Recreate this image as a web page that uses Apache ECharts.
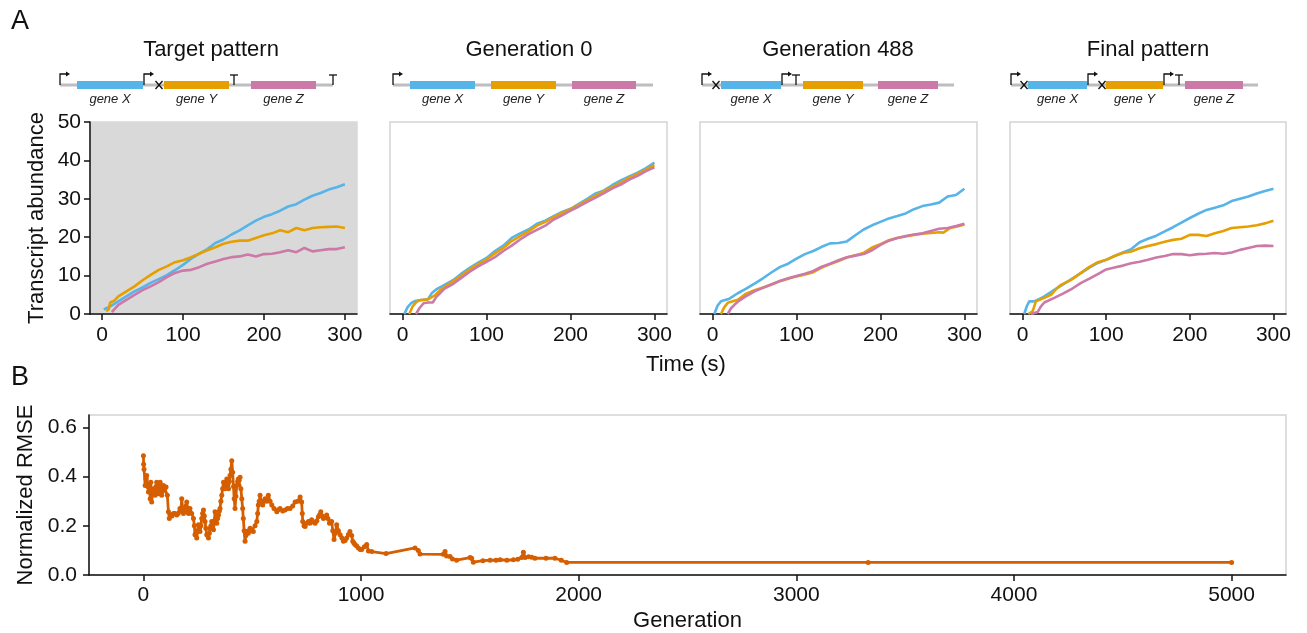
<!DOCTYPE html>
<html>
<head>
<meta charset="utf-8">
<title>Gene circuit evolution</title>
<script src="https://cdn.jsdelivr.net/npm/echarts@6/dist/echarts.min.js"></script>
<style>
  html, body { margin: 0; padding: 0; background: #fff; }
  #chart { width: 1307px; height: 633px; }
</style>
</head>
<body>
<div id="chart"></div>
<script>
// tick labels
var timeTicks = [0, 100, 200, 300];
var abundanceTicks = [0, 10, 20, 30, 40, 50];
var genTicks = [0, 1000, 2000, 3000, 4000, 5000];
var rmseTicks = [0, 0.2, 0.4, 0.6];

var panelTitles = ['Target pattern', 'Generation 0', 'Generation 488', 'Final pattern'];
var geneNames = ['gene X', 'gene Y', 'gene Z'];

// transcript abundance, [time (s), value]
var targetX = [[2,1.2],[10,2],[20,3.3],[30,4.6],[40,5.9],[50,6.9],[60,8.1],[70,9.1],[80,10.1],[90,11.4],[100,12.8],[110,14.4],[120,15.7],[130,16.9],[140,18.5],[150,19.4],[160,20.7],[170,21.8],[180,23.1],[190,24.3],[200,25.3],[210,26],[220,26.9],[230,28],[240,28.6],[250,29.8],[260,30.8],[270,31.5],[280,32.4],[290,33],[300,33.8]];
var targetY = [[5,0.7],[8,1.2],[10,3.0],[15,3.5],[20,4.6],[30,5.9],[40,7.2],[50,8.8],[60,10.2],[70,11.5],[80,12.4],[90,13.5],[100,14],[110,14.8],[120,15.7],[130,16.6],[140,17.4],[150,18.3],[160,18.8],[170,19.1],[180,19.1],[190,19.8],[200,20.5],[210,21],[220,21.8],[230,21.3],[240,22.4],[250,21.8],[260,22.4],[270,22.6],[280,22.7],[290,22.8],[300,22.4]];
var targetZ = [[12,0.5],[15,1.2],[20,2.4],[30,3.7],[40,5],[50,6.2],[60,7.2],[70,8.3],[80,9.6],[90,10.7],[100,11.3],[110,11.5],[120,12.2],[130,13.1],[140,13.7],[150,14.3],[160,14.8],[170,15],[180,15.5],[190,15],[200,15.6],[210,15.7],[220,16.1],[230,16.6],[240,16.1],[250,17.2],[260,16.3],[270,16.6],[280,16.9],[290,16.9],[300,17.4]];

var gen0X = [[2,0],[6,1.8],[10,2.8],[15,3.4],[20,3.6],[30,3.8],[35,5.5],[40,6.4],[50,7.6],[60,8.8],[70,10.5],[80,12.0],[90,13.4],[100,14.6],[110,16.4],[120,17.8],[130,19.8],[140,21.0],[150,22.0],[160,23.5],[170,24.3],[180,25.5],[190,26.6],[200,27.4],[210,28.7],[220,30.0],[230,31.4],[240,32.2],[250,33.6],[260,34.8],[270,35.8],[280,36.8],[290,38.0],[300,39.4]];
var gen0Y = [[8,0],[12,2.0],[16,3.0],[20,3.6],[30,3.8],[38,4.8],[45,6.3],[50,7.0],[60,8.5],[70,10.0],[80,11.6],[90,13.0],[100,14.2],[110,15.8],[120,17.2],[130,19.0],[140,20.3],[150,21.5],[160,23.0],[170,24.0],[180,25.2],[190,26.3],[200,27.3],[210,28.4],[220,29.6],[230,30.8],[240,32.0],[250,33.1],[260,34.2],[270,35.5],[280,36.5],[290,37.6],[300,38.8]];
var gen0Z = [[16,0],[20,1.5],[25,2.8],[30,3.0],[36,3.0],[40,4.4],[50,6.6],[60,7.8],[70,9.4],[80,11.0],[90,12.4],[100,13.6],[110,14.8],[120,16.4],[130,17.8],[140,19.4],[150,20.8],[160,21.9],[170,23.0],[180,24.6],[190,25.7],[200,26.9],[210,28.0],[220,29.2],[230,30.3],[240,31.5],[250,32.7],[260,33.7],[270,35.0],[280,36.0],[290,37.2],[300,38.2]];

var gen488X = [[2,0],[6,2.2],[10,3.3],[20,4.0],[30,5.4],[40,6.6],[50,7.9],[60,9.3],[70,10.8],[80,12.2],[90,13.1],[100,14.4],[110,15.6],[120,16.4],[130,17.5],[140,18.4],[150,18.5],[160,18.9],[170,20.5],[180,22.0],[190,23.1],[200,24.0],[210,24.9],[220,25.5],[230,26.2],[240,27.3],[250,28.1],[260,28.5],[270,29.0],[280,30.6],[290,31.0],[300,32.6]];
var gen488Y = [[10,0],[14,1.8],[18,2.9],[30,3.7],[40,5.3],[50,6.2],[60,6.9],[70,7.7],[80,8.5],[90,9.2],[100,9.8],[110,10.3],[120,10.9],[130,12.1],[140,13.0],[150,13.8],[160,14.7],[170,15.3],[180,15.9],[190,17.3],[200,18.2],[210,19.2],[220,19.8],[230,20.2],[240,20.6],[250,20.9],[260,21.1],[270,21.3],[275,21.2],[283,22.4],[290,22.7],[300,23.3]];
var gen488Z = [[18,0],[22,1.5],[26,2.4],[30,3.2],[38,4.4],[50,5.9],[60,6.8],[70,7.7],[80,8.6],[90,9.3],[100,9.9],[110,10.5],[120,11.2],[130,12.3],[140,13.1],[150,14.0],[160,14.8],[170,15.2],[180,15.6],[190,16.6],[200,18.0],[210,19.1],[220,19.8],[230,20.3],[240,20.7],[250,21.0],[260,21.6],[270,22.2],[280,22.4],[290,22.9],[300,23.5]];

var finalX = [[2,0],[5,2.0],[8,3.3],[14,3.3],[20,3.9],[26,4.6],[38,6.3],[50,7.9],[60,9.3],[70,10.7],[80,12.1],[90,13.3],[100,14.1],[110,15.1],[120,16.0],[130,16.9],[140,18.7],[150,19.6],[160,20.4],[170,21.5],[180,22.6],[190,23.8],[200,25.0],[210,26.1],[220,27.1],[230,27.7],[240,28.3],[250,29.4],[260,30.0],[270,30.6],[280,31.4],[290,32.0],[300,32.6]];
var finalY = [[7,0],[12,0.7],[16,3.3],[26,4.2],[34,5.0],[40,6.5],[46,7.6],[58,8.9],[70,10.7],[80,12.3],[90,13.5],[100,14.1],[110,15.1],[120,15.9],[130,16.3],[140,17.1],[150,17.7],[160,18.2],[170,18.8],[180,19.3],[190,19.6],[200,20.6],[210,20.6],[220,20.3],[230,21.0],[240,21.6],[250,22.4],[260,22.6],[270,22.8],[280,23.1],[290,23.6],[300,24.3]];
var finalZ = [[10,0],[18,0.5],[22,2.0],[26,3.0],[38,4.2],[50,5.5],[60,6.7],[70,8.1],[80,9.2],[90,10.4],[100,11.6],[110,12.1],[120,12.6],[130,13.2],[140,13.6],[150,14.1],[160,14.7],[170,15.1],[180,15.6],[190,15.6],[200,15.3],[210,15.6],[220,15.7],[230,15.9],[240,15.7],[250,16.0],[260,16.7],[270,17.2],[280,17.7],[290,17.8],[300,17.7]];

// normalized RMSE, [generation, value]
var rmse = [[0,0.484],[1,0.45],[3,0.43],[8,0.364],[12,0.39],[15,0.404],[20,0.36],[23,0.337],[28,0.37],[31,0.31],[34,0.377],[38,0.297],[42,0.33],[46,0.35],[50,0.33],[54,0.324],[58,0.36],[61,0.377],[65,0.34],[69,0.33],[73,0.36],[77,0.377],[80,0.35],[84,0.324],[88,0.34],[92,0.364],[98,0.35],[104,0.357],[110,0.324],[115,0.257],[119,0.23],[125,0.245],[131,0.24],[138,0.25],[145,0.25],[153,0.244],[160,0.25],[168,0.27],[172,0.26],[176,0.31],[180,0.27],[184,0.25],[190,0.26],[195,0.28],[199,0.297],[203,0.27],[207,0.25],[211,0.26],[214,0.27],[222,0.25],[230,0.23],[234,0.2],[237,0.164],[241,0.17],[245,0.15],[249,0.18],[253,0.204],[257,0.19],[260,0.177],[264,0.2],[268,0.23],[272,0.25],[276,0.264],[280,0.24],[283,0.217],[287,0.19],[291,0.164],[295,0.16],[299,0.15],[303,0.17],[306,0.19],[310,0.2],[314,0.217],[318,0.2],[322,0.184],[326,0.22],[329,0.257],[333,0.23],[337,0.21],[341,0.23],[345,0.244],[349,0.26],[352,0.27],[356,0.3],[360,0.324],[364,0.35],[368,0.377],[372,0.36],[375,0.35],[379,0.37],[383,0.39],[387,0.37],[391,0.35],[395,0.38],[398,0.404],[402,0.43],[406,0.464],[410,0.417],[414,0.36],[417,0.31],[421,0.27],[425,0.32],[429,0.364],[433,0.38],[436,0.39],[440,0.385],[444,0.397],[448,0.35],[452,0.31],[456,0.27],[459,0.23],[463,0.18],[467,0.137],[471,0.16],[475,0.177],[482,0.17],[490,0.19],[497,0.18],[505,0.177],[513,0.2],[521,0.217],[525,0.25],[528,0.284],[532,0.3],[536,0.324],[542,0.3],[548,0.284],[553,0.3],[559,0.31],[566,0.3],[574,0.324],[582,0.3],[590,0.284],[600,0.27],[613,0.257],[620,0.265],[628,0.27],[640,0.26],[651,0.264],[662,0.27],[674,0.27],[686,0.28],[697,0.297],[709,0.3],[720,0.317],[727,0.297],[730,0.25],[732,0.217],[738,0.2],[743,0.197],[750,0.21],[758,0.217],[765,0.21],[773,0.224],[781,0.215],[789,0.21],[797,0.22],[804,0.237],[810,0.245],[815,0.257],[821,0.24],[827,0.23],[835,0.235],[842,0.244],[848,0.23],[855,0.21],[860,0.215],[865,0.217],[870,0.18],[876,0.144],[882,0.17],[888,0.204],[896,0.18],[904,0.164],[912,0.15],[919,0.137],[927,0.14],[934,0.15],[942,0.165],[949,0.177],[957,0.16],[962,0.137],[967,0.13],[972,0.124],[980,0.118],[988,0.11],[996,0.104],[1003,0.104],[1015,0.115],[1026,0.124],[1034,0.097],[1049,0.095],[1115,0.087],[1248,0.11],[1263,0.1],[1271,0.085],[1378,0.084],[1386,0.095],[1393,0.077],[1409,0.075],[1420,0.065],[1439,0.06],[1501,0.071],[1508,0.068],[1516,0.052],[1560,0.058],[1593,0.06],[1620,0.06],[1639,0.062],[1670,0.06],[1700,0.062],[1720,0.064],[1738,0.071],[1746,0.092],[1754,0.071],[1770,0.074],[1784,0.072],[1799,0.068],[1850,0.068],[1891,0.068],[1920,0.06],[1945,0.051],[3330,0.051],[5000,0.051]];

// construct diagrams: [part, start, end, gene index], in diagram units
var targetParts = [['backbone',0,273],['promoter',0],['gene',17,83,0],['promoter',84],['cross',99],['gene',104,169,1],['terminator',174],['gene',191,256,2],['terminator',273]];
var gen0Parts = [['backbone',0,260],['promoter',0],['gene',17,82,0],['gene',98,163,1],['gene',179,243,2]];
var gen488Parts = [['backbone',0,252],['promoter',0],['cross',14],['gene',19,79,0],['promoter',80],['terminator',94],['gene',101,161,1],['gene',176,236,2]];
var finalParts = [['backbone',0,247],['promoter',0],['cross',13],['gene',17,76,0],['promoter',77],['cross',91],['gene',95,152,1],['promoter',153],['terminator',168],['gene',174,232,2]];

var geneColors = ['#56b4e9', '#e69f00', '#cc79a7'];
var ink = '#111';
var font = '"Liberation Sans", Arial, sans-serif';

var panelSeries = [[targetX, targetY, targetZ], [gen0X, gen0Y, gen0Z], [gen488X, gen488Y, gen488Z], [finalX, finalY, finalZ]];
var panelParts = [targetParts, gen0Parts, gen488Parts, finalParts];
var plotLeft = [90, 390, 700, 1010];
var plotWidth = [267, 277, 277, 276];
var titleX = [211, 529, 838, 1148];
var diagramLeft = [60, 393, 702, 1011];

function drawPart(parts) {
  return function (params, api) {
    var p = parts[params.dataIndex];
    var a = api.coord([p[1], 0]);
    var x = a[0], y = a[1];
    var line = { stroke: ink, lineWidth: 1.3, fill: 'none' };
    if (p[0] === 'backbone') {
      var e = api.coord([p[2], 0]);
      return { type: 'line', shape: { x1: x, y1: y, x2: e[0], y2: y }, style: { stroke: '#bdbdbd', lineWidth: 3 } };
    }
    if (p[0] === 'gene') {
      var b = api.coord([p[2], 0]);
      return { type: 'group', children: [
        { type: 'rect', shape: { x: x, y: y - 4, width: b[0] - x, height: 8 }, style: { fill: geneColors[p[3]] } },
        { type: 'text', style: { text: geneNames[p[3]], x: (x + b[0]) / 2, y: y + 14, align: 'center', verticalAlign: 'middle', font: 'italic 13px ' + font, fill: '#222' } }
      ] };
    }
    if (p[0] === 'promoter') {
      return { type: 'group', children: [
        { type: 'polyline', shape: { points: [[x, y], [x, y - 11], [x + 7, y - 11]] }, style: line },
        { type: 'polygon', shape: { points: [[x + 6, y - 13.5], [x + 10, y - 11], [x + 6, y - 8.5]] }, style: { fill: ink } }
      ] };
    }
    if (p[0] === 'terminator') {
      return { type: 'group', children: [
        { type: 'line', shape: { x1: x, y1: y, x2: x, y2: y - 10 }, style: line },
        { type: 'line', shape: { x1: x - 4, y1: y - 10, x2: x + 4, y2: y - 10 }, style: line }
      ] };
    }
    return { type: 'group', children: [
      { type: 'line', shape: { x1: x - 3.5, y1: y - 4, x2: x + 3.5, y2: y + 4 }, style: line },
      { type: 'line', shape: { x1: x - 3.5, y1: y + 4, x2: x + 3.5, y2: y - 4 }, style: line }
    ] };
  };
}

var axisLineStyle = { color: ink, width: 1.5 };
var grids = [], xAxes = [], yAxes = [], series = [], graphics = [];

for (var i = 0; i < 4; i++) {
  grids.push({
    left: plotLeft[i], top: 122, width: plotWidth[i], height: 192,
    show: true,
    backgroundColor: i === 0 ? '#d9d9d9' : '#fff',
    borderColor: i === 0 ? '#d9d9d9' : '#d3d3d3',
    borderWidth: 1.5
  });
  xAxes.push({
    type: 'value', gridIndex: i, min: -15, max: 315,
    axisLine: { onZero: false, lineStyle: axisLineStyle },
    axisTick: { length: 6, lineStyle: axisLineStyle, customValues: timeTicks },
    axisLabel: { customValues: timeTicks, color: ink, fontSize: 21, fontFamily: font, margin: 11 },
    splitLine: { show: false }
  });
  yAxes.push({
    type: 'value', gridIndex: i, min: 0, max: 50,
    name: i === 0 ? 'Transcript abundance' : '',
    nameLocation: 'middle', nameGap: 42,
    nameTextStyle: { fontSize: 22, fontFamily: font, color: ink },
    axisLine: { show: i === 0, onZero: false, lineStyle: axisLineStyle },
    axisTick: { show: i === 0, length: 6, lineStyle: axisLineStyle, customValues: abundanceTicks },
    axisLabel: { show: i === 0, customValues: abundanceTicks, color: ink, fontSize: 21, fontFamily: font, margin: 9 },
    splitLine: { show: false }
  });
  for (var g = 0; g < 3; g++) {
    series.push({
      type: 'line', name: geneNames[g], xAxisIndex: i, yAxisIndex: i,
      data: panelSeries[i][g], showSymbol: false, symbol: 'none',
      lineStyle: { color: geneColors[g], width: 2.6 }, itemStyle: { color: geneColors[g] },
      clip: true, silent: true
    });
  }
  graphics.push({
    type: 'text', x: titleX[i], y: 50,
    style: { text: panelTitles[i], align: 'center', verticalAlign: 'middle', font: '22px ' + font, fill: ink }
  });
}

// panel B
grids.push({ left: 89, top: 415, width: 1197, height: 163, show: true, borderColor: '#d3d3d3', borderWidth: 1.5 });
xAxes.push({
  type: 'value', gridIndex: 4, min: -250, max: 5250,
  name: 'Generation', nameLocation: 'middle', nameGap: 35,
  nameTextStyle: { fontSize: 22, fontFamily: font, color: ink },
  axisLine: { onZero: false, lineStyle: axisLineStyle },
  axisTick: { length: 6, lineStyle: axisLineStyle, customValues: genTicks },
  axisLabel: { customValues: genTicks, color: ink, fontSize: 21, fontFamily: font, margin: 10,
    formatter: function (v) { return String(v); } },
  splitLine: { show: false }
});
yAxes.push({
  type: 'value', gridIndex: 4, min: 0, max: 0.65,
  name: 'Normalized RMSE', nameLocation: 'middle', nameGap: 41,
  nameTextStyle: { fontSize: 22, fontFamily: font, color: ink },
  axisLine: { onZero: false, lineStyle: axisLineStyle },
  axisTick: { length: 6, lineStyle: axisLineStyle, customValues: rmseTicks },
  axisLabel: { customValues: rmseTicks, color: ink, fontSize: 21, fontFamily: font, margin: 12,
    formatter: function (v) { return v.toFixed(1); } },
  splitLine: { show: false }
});
series.push({
  type: 'line', xAxisIndex: 4, yAxisIndex: 4, data: rmse,
  symbol: 'circle', symbolSize: 5, showSymbol: true, showAllSymbol: true,
  lineStyle: { color: '#d55e00', width: 2.8 }, itemStyle: { color: '#d55e00' },
  silent: true
});

// construct diagrams
var diagramLen = [273, 260, 252, 247];
for (var k = 0; k < 4; k++) {
  grids.push({ left: diagramLeft[k], top: 65, width: diagramLen[k], height: 40 });
  xAxes.push({ type: 'value', gridIndex: 5 + k, min: 0, max: diagramLen[k], show: false });
  yAxes.push({ type: 'value', gridIndex: 5 + k, min: -1, max: 1, show: false });
  series.push({
    type: 'custom', xAxisIndex: 5 + k, yAxisIndex: 5 + k, silent: true, clip: false,
    data: panelParts[k].map(function (p) { return [p[1], 0]; }),
    renderItem: drawPart(panelParts[k])
  });
}

graphics.push(
  { type: 'text', x: 11, y: 8, style: { text: 'A', font: '27px ' + font, fill: ink } },
  { type: 'text', x: 11, y: 364, style: { text: 'B', font: '27px ' + font, fill: ink } },
  { type: 'text', x: 686, y: 365, style: { text: 'Time (s)', align: 'center', verticalAlign: 'middle', font: '22px ' + font, fill: ink } }
);

var myChart = echarts.init(document.getElementById('chart'));
var option = {
  animation: false,
  backgroundColor: '#fff',
  textStyle: { fontFamily: font },
  grid: grids,
  xAxis: xAxes,
  yAxis: yAxes,
  series: series,
  graphic: graphics
};
if (option && typeof option === 'object') {
  myChart.setOption(option, true);
}
</script>
</body>
</html>
